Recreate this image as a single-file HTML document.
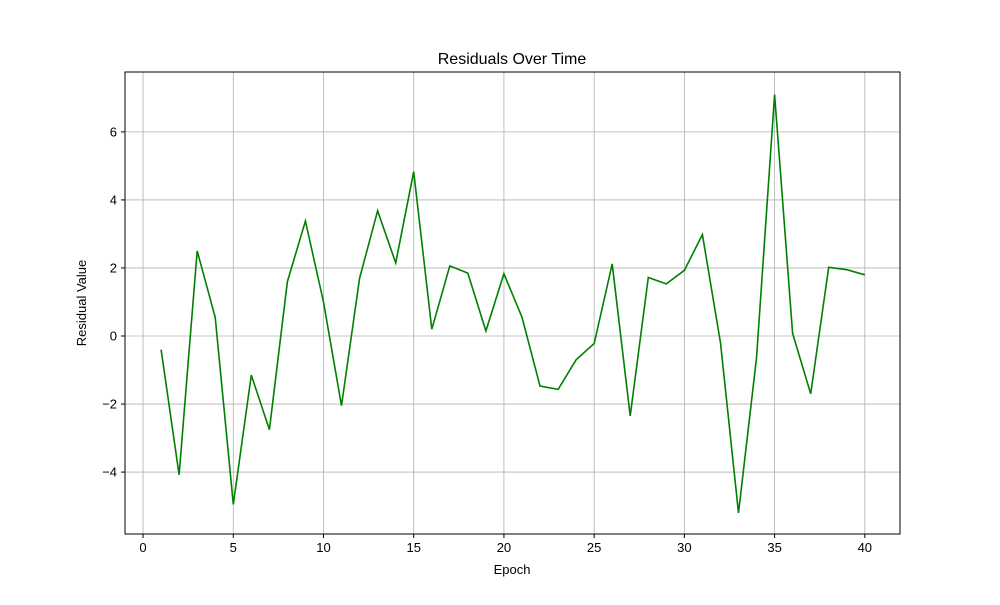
<!DOCTYPE html>
<html><head><meta charset="utf-8"><style>
body{margin:0;background:#fff;}
text{font-family:"Liberation Sans","DejaVu Sans",sans-serif;}
</style></head><body>
<svg id="chart" width="1000" height="600" xmlns="http://www.w3.org/2000/svg">
<rect width="1000" height="600" fill="#fff"/>
<g id="grid"></g>
<rect x="125" y="72" width="775" height="462" fill="none" stroke="#000" stroke-width="1"/>
<g id="ticks"></g>
<path id="line" fill="none" stroke="#008000" stroke-width="1.6"/>
<text x="512" y="64" text-anchor="middle" font-size="16">Residuals Over Time</text>
<text x="512" y="574" text-anchor="middle" font-size="13">Epoch</text>
<text transform="translate(86,303) rotate(-90)" text-anchor="middle" font-size="13">Residual Value</text>
</svg>
<script>
const epochs=[1,2,3,4,5,6,7,8,9,10,11,12,13,14,15,16,17,18,19,20,21,22,23,24,25,26,27,28,29,30,31,32,33,34,35,36,37,38,39,40];
const residuals=[-0.4,-4.08,2.5,0.55,-4.95,-1.15,-2.75,1.6,3.38,1.0,-2.05,1.7,3.68,2.15,4.83,0.2,2.06,1.85,0.15,1.83,0.55,-1.47,-1.57,-0.7,-0.22,2.12,-2.35,1.72,1.53,1.93,2.98,-0.2,-5.2,-0.65,7.1,0.08,-1.7,2.02,1.95,1.8];
const xTicks=[0,5,10,15,20,25,30,35,40];
const yTicks=[-4,-2,0,2,4,6];
const L=125,R=900,T=72,B=534;
const xMin=-1.0,xMax=41.95;
const yMin=-5.82,yMax=7.76;
const sx=v=>L+(v-xMin)/(xMax-xMin)*(R-L);
const sy=v=>B-(v-yMin)/(yMax-yMin)*(B-T);
const NS="http://www.w3.org/2000/svg";
const grid=document.getElementById('grid'),ticks=document.getElementById('ticks');
function mk(tag,attrs,parent){const e=document.createElementNS(NS,tag);for(const k in attrs)e.setAttribute(k,attrs[k]);parent.appendChild(e);return e;}
xTicks.forEach(t=>{const x=sx(t);
const g=mk('line',{x1:x,x2:x,y1:T,y2:B,stroke:'#b0b0b0','stroke-width':0.8},grid);


const tk=mk('line',{x1:x,x2:x,y1:B,y2:B+4,stroke:'#000'},ticks);


const tx=mk('text',{x:x,y:B+18,'text-anchor':'middle','font-size':13},ticks);tx.textContent=t;


});
yTicks.forEach(t=>{const y=sy(t);
const g=mk('line',{x1:L,x2:R,y1:y,y2:y,stroke:'#b0b0b0','stroke-width':0.8},grid);


const tk=mk('line',{x1:L-4,x2:L,y1:y,y2:y,stroke:'#000'},ticks);


const tx=mk('text',{x:L-8,y:y+4.5,'text-anchor':'end','font-size':13},ticks);tx.textContent=t<0?'\u2212'+(-t):t;


});
document.getElementById('line').setAttribute('d',epochs.map((e,i)=>(i?'L':'M')+sx(e).toFixed(1)+','+sy(residuals[i]).toFixed(1)).join(''));
</script>
</body></html>
